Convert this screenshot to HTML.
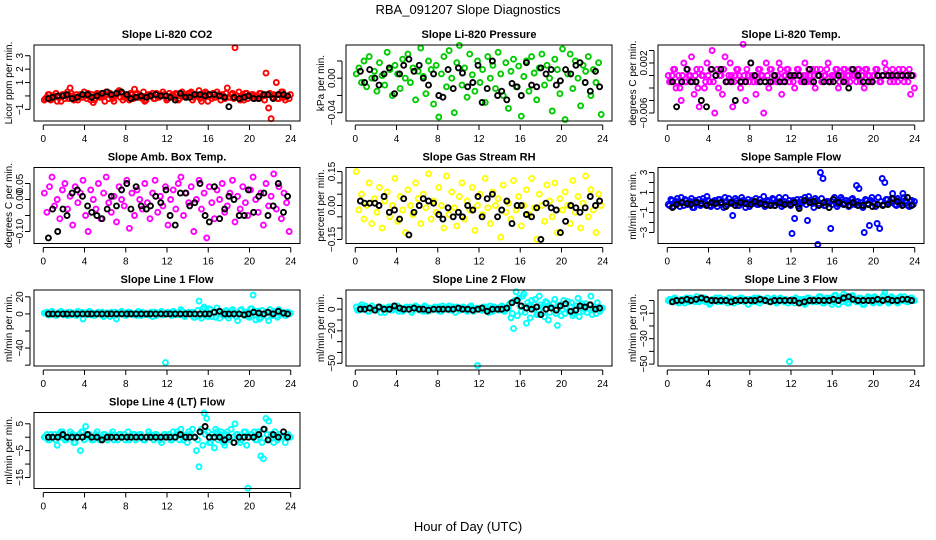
<!DOCTYPE html>
<html><head><meta charset="utf-8"><style>
html,body{margin:0;padding:0;background:#fff}
svg{display:block;font-family:"Liberation Sans",sans-serif}
</style></head><body>
<svg id="chart" width="936" height="540" viewBox="0 0 936 540" xmlns="http://www.w3.org/2000/svg">
<rect x="0" y="0" width="936" height="540" fill="#fff"/>
<text x="468" y="14" text-anchor="middle" font-size="13">RBA_091207  Slope Diagnostics</text>
<text x="468" y="531" text-anchor="middle" font-size="13">Hour of Day (UTC)</text>
<g id="panels"></g>
</svg>
<script>
const xTicks = [0,4,8,12,16,20,24];
const tc = [0.1,0.35,0.6,0.85,1.1,1.35,1.6,1.85,2.1,2.35,2.6,2.85,3.1,3.35,3.6,3.85,4.1,4.35,4.6,4.85,5.1,5.35,5.6,5.85,6.1,6.35,6.6,6.85,7.1,7.35,7.6,7.85,8.1,8.35,8.6,8.85,9.1,9.35,9.6,9.85,10.1,10.35,10.6,10.85,11.1,11.35,11.6,11.85,12.1,12.35,12.6,12.85,13.1,13.35,13.6,13.85,14.1,14.35,14.6,14.85,15.1,15.35,15.6,15.85,16.1,16.35,16.6,16.85,17.1,17.35,17.6,17.85,18.1,18.35,18.6,18.85,19.1,19.35,19.6,19.85,20.1,20.35,20.6,20.85,21.1,21.35,21.6,21.85,22.1,22.35,22.6,22.85,23.1,23.35,23.6,23.85];
const tc2 = [0.22,0.47,0.72,0.97,1.22,1.47,1.72,1.97,2.22,2.47,2.72,2.97,3.22,3.47,3.72,3.97,4.22,4.47,4.72,4.97,5.22,5.47,5.72,5.97,6.22,6.47,6.72,6.97,7.22,7.47,7.72,7.97,8.22,8.47,8.72,8.97,9.22,9.47,9.72,9.97,10.22,10.47,10.72,10.97,11.22,11.47,11.72,11.97,12.22,12.47,12.72,12.97,13.22,13.47,13.72,13.97,14.22,14.47,14.72,14.97,15.22,15.47,15.72,15.97,16.22,16.47,16.72,16.97,17.22,17.47,17.72,17.97,18.22,18.47,18.72,18.97,19.22,19.47,19.72,19.97,20.22,20.47,20.72,20.97,21.22,21.47,21.72,21.97,22.22,22.47,22.72,22.97,23.22,23.47,23.72,23.97];
const tb = [0.5,0.9,1.4,1.9,2.3,2.8,3.3,3.8,4.3,4.7,5.2,5.7,6.2,6.6,7.1,7.6,8.1,8.5,9.0,9.5,10.0,10.4,10.9,11.4,11.9,12.3,12.8,13.3,13.8,14.2,14.7,15.2,15.7,16.1,16.6,17.1,17.6,18.0,18.5,19.0,19.5,19.9,20.4,20.9,21.4,21.8,22.3,22.8,23.3,23.7];

const titles = ["Slope Li-820 CO2","Slope Li-820 Pressure","Slope Li-820 Temp.","Slope Amb. Box Temp.","Slope Gas Stream RH","Slope Sample Flow","Slope Line 1 Flow","Slope Line 2 Flow","Slope Line 3 Flow","Slope Line 4 (LT) Flow"];
const yTitles = ["Licor ppm per min.","kPa per min.","degrees C per min.","degrees C per min.","percent per min.","ml/min per min.","ml/min per min.","ml/min per min.","ml/min per min.","ml/min per min."];
const colors = ["#ff0000","#00cc00","#ff00ff","#ff00ff","#ffff00","#0000ff","#00ffff","#00ffff","#00ffff","#00ffff"];
const units = [0.1,0.001,0.001,0.01,0.01,0.1,1,1,1,1];
const yDomains = [[-1.87,3.8],[-0.0496,0.0385],[-0.00728,0.00488],[-0.1375,0.10],[-0.168,0.168],[-4.1,3.5],[-61,28],[-52.5,17.7],[-51.5,8.3],[-19.1,9.2]];
const yTickVals = [[-1,0,1,2,3],[-0.04,-0.02,0,0.02],[-0.006,-0.004,-0.002,0,0.002,0.004],[-0.10,-0.05,0,0.05],[-0.15,-0.10,-0.05,0,0.05,0.10,0.15],[-3,-2,-1,0,1,2,3],[-60,-40,-20,0,20],[-50,-40,-30,-20,-10,0,10],[-50,-40,-30,-20,-10,0],[-15,-10,-5,0,5]];
const yTickLabels = [["−1","","1","2","3"],["−0.04","","0.00",""],["−0.006","","","","0.002",""],["−0.10","","0.00","0.05"],["−0.15","","","0.00","","","0.15"],["−3","","−1","","1","","3"],["","−40","","0","20"],["−50","","","−20","","0",""],["−50","","−30","","−10",""],["−15","","−5","","5"]];

const c1 = [-3,-1,1,-2,0,-4,-1,1,-2,3,6,0,-2,-3,1,-1,0,2,-3,-5,1,0,-1,2,3,-2,0,-4,1,4,2,-1,0,-3,1,5,2,-1,-2,-4,0,1,2,-2,-1,1,3,0,-2,0,1,2,-3,0,1,-1,2,3,-1,0,4,-4,1,2,0,-2,-1,3,0,1,-2,6,-1,2,36,0,-3,1,2,-2,0,1,-1,-2,2,0,17,-9,-17,1,10,-2,3,-1,0,-2];
const c1b = [-2,1,-3,0,2,-1,-4,1,0,-2,2,-3,1,0,-1,3,-2,0,1,-3,2,-1,0,-4,1,2,-2,0,3,-1,-3,1,0,2,-2,1,-1,0,3,-3,1,0,-2,2,-1,0,1,-3,2,0,-1,1,-2,3,0,-1,2,-3,1,0,-2,1,3,-4,0,2,-1,1,-3,0,2,-1,1,-2,0,3,-1,-3,2,0,1,-2,-1,2,0,-3,1,2,-1,0,-2,1,3,-3,0,1];
const b1 = [-2,-1,0,0,1,-2,-1,1,1,-1,0,2,3,1,2,3,1,-2,-1,0,-1,0,1,0,0,-1,-3,2,-1,-1,1,1,0,1,1,0,-1,-8,-1,-2,-1,0,-2,-2,1,1,-2,1,1,0];
const c2 = [5,12,-5,20,-10,25,0,8,-15,18,3,-8,30,10,-20,15,5,-12,22,0,28,-5,12,-25,8,35,2,-18,20,10,-30,15,-45,5,25,-10,32,0,-40,18,38,-8,12,-22,28,4,-15,20,-5,10,-28,25,0,15,-12,30,5,-20,18,-35,8,22,-10,14,-44,2,20,-15,25,6,-25,12,28,-8,15,0,-38,22,10,-18,34,-48,5,28,-12,20,0,-32,15,8,25,-20,10,-5,18,-42];
const b2 = [8,-5,10,0,-8,5,12,-18,5,15,22,8,15,0,-8,5,-20,-22,10,-12,12,6,-10,-5,15,-28,-12,20,-20,-15,-25,-6,-10,-20,18,-8,-10,12,5,10,-8,-3,10,5,15,18,-5,-15,8,-10];
const c3 = [0,-1,1,-2,0,-4,2,-1,0,3,-3,1,-5,0,-2,2,-1,4,-6,1,0,-3,3,-1,2,-5,0,1,-2,5,-4,0,2,-1,-3,1,0,-6,2,-2,1,0,-1,2,-3,0,1,-1,0,-2,1,0,-1,2,-1,0,1,-2,0,1,-1,0,2,-1,0,1,-2,0,1,-1,0,1,0,-1,1,0,-2,1,0,-1,0,1,-1,0,2,0,-1,1,0,-1,0,1,0,-1,-3,0];
const c3b = [-1,0,1,-1,-2,0,-1,1,0,-1,0,-2,1,0,-1,0,1,-1,0,-2,0,1,-1,0,0,-1,1,0,-1,0,1,-1,0,0,-1,1,0,-1,0,1,-1,0,0,1,-1,0,1,0,-1,0,1,-1,0,0,1,-1,0,1,0,-1,0,1,-1,0,0,1,-1,0,1,0,-1,0,0,1,-1,0,1,0,-1,0,1,0,-1,0,1,0,0,-1,0,1,0,-1,0,1,0,-2];
const b3 = [-1,-5,-1,1,-1,-1,-4,-5,1,0,1,-1,-1,-4,-1,-1,2,0,-1,-1,-1,0,-1,-1,0,0,0,-1,1,-1,0,-1,-1,-1,0,-1,-2,1,0,-1,-1,-1,0,0,0,0,0,0,0,0];
const c4 = [2,-4,4,7,-2,0,-6,3,5,-3,1,-8,4,-1,2,6,-5,-10,3,0,-3,5,-6,2,7,-1,-4,1,-7,4,0,-2,6,-9,2,-5,3,0,-3,5,-1,-6,2,6,-4,1,-2,4,-8,0,3,-3,5,7,-5,2,-1,4,-10,0,6,-3,2,-12,4,-1,-6,3,0,5,-4,-2,2,6,-7,1,-3,4,-1,-5,3,7,0,-4,2,-8,5,-2,1,8,-3,4,-6,2,-1,-10];
const b4 = [-12,-3,-10,-3,-5,2,3,1,-2,-4,-5,-6,-3,1,-2,3,5,-3,4,-2,-3,-2,1,-1,3,-5,-8,2,2,-2,-1,5,-5,-7,4,-6,-3,1,0,-5,-5,3,-4,1,2,-5,-2,5,-4,1];
const c5 = [15,-2,5,-6,0,10,-8,3,-3,8,-10,2,6,-5,0,12,-7,4,-2,-12,7,0,-4,10,3,-8,5,-1,14,-6,2,-3,8,0,-10,13,-4,6,-1,-9,4,10,-6,2,-2,8,-11,0,5,-4,12,-1,-8,6,0,3,-14,9,-3,1,-6,11,-2,4,-9,0,7,-4,12,-1,-15,5,0,-7,9,2,-5,10,-12,3,-2,6,0,-8,11,-3,4,-10,1,13,-5,7,-2,-12,5,0];
const b5 = [2,1,1,1,0,4,-3,-2,-6,3,-13,-3,0,3,2,1,-4,-6,-1,-5,-3,-5,0,-2,4,-5,3,5,-5,-2,2,-8,0,0,-4,-5,-1,-15,1,-1,-2,-12,-7,0,-1,-3,-1,4,0,2];
const c6 = [-2,3,-4,1,0,5,-3,2,-1,4,-5,0,3,-2,1,6,-3,0,2,-4,3,-1,5,-2,0,-13,4,-3,1,2,-5,3,0,-1,4,-2,0,6,-3,1,-2,3,0,5,-4,1,-1,2,-31,-16,3,-2,0,5,-18,2,-1,4,-42,30,24,-3,1,-26,3,0,-2,5,-1,2,-4,3,0,17,14,-3,-30,2,-23,5,-1,-21,-26,24,20,3,0,9,-2,4,-1,9,2,-3,1,-2];
const c6b = [-3,2,-1,4,-4,0,3,-2,1,-5,2,0,-3,4,-1,2,-4,1,0,3,-2,-5,1,4,-1,0,2,-3,5,-1,0,-4,2,1,-2,3,0,-4,2,-1,4,-3,0,1,-2,5,-1,-3,2,0,-4,3,1,-2,6,0,-5,2,-1,4,-3,1,0,-2,5,-4,1,3,-1,0,-3,4,-2,1,0,-5,3,-1,2,0,-4,5,1,-2,3,-1,0,4,-3,2,-1,5,0,-4,2,1];
const b6 = [-5,-2,0,-1,-2,0,-1,-3,0,-1,0,-4,0,-3,0,-1,-2,1,-1,-2,-3,-3,0,-2,-2,0,-6,2,0,1,-3,0,-5,3,0,-2,-3,0,-3,-3,-2,-4,-2,-3,-2,4,1,-3,5,-3];
const c7 = [1,2,-1,3,0,-1,2,0,1,-2,2,0,-1,3,1,-6,0,2,-1,1,0,2,-1,-3,1,0,2,-1,-6,1,3,0,-1,2,1,0,-2,1,2,-1,0,1,-3,2,0,1,-1,-57,2,0,3,-1,1,5,-2,0,2,1,-4,0,15,-5,8,0,6,-3,2,7,-5,1,3,0,-2,5,1,-8,4,0,2,-3,6,22,-7,3,-4,0,2,-8,1,3,-2,5,0,1,2,0];
const c7b = [1,-1,2,0,-2,1,3,-1,0,2,-1,1,-2,0,2,1,-1,3,0,-2,1,0,2,-1,1,-3,0,2,-1,1,0,-2,2,1,-1,0,3,-2,1,0,-1,2,0,-2,1,3,-1,0,1,-2,2,0,-1,3,-3,1,0,2,-4,4,-2,6,1,-3,5,2,-4,3,0,-2,4,-5,1,3,-3,0,5,-2,2,-4,6,-1,3,-6,4,0,-3,5,-2,1,-4,3,0,-2,2,1];
const b7 = [0,0,0,0,0,0,0,0,0,0,0,0,0,0,0,0,0,0,0,0,0,0,0,0,0,0,0,0,0,0,0,0,0,0,2,3,0,0,0,0,-1,0,2,1,0,2,0,3,1,0];
const c8 = [2,-1,4,0,1,-2,3,0,-1,2,1,-3,0,2,-1,1,3,0,-2,1,0,2,-1,3,0,1,-2,2,0,-1,1,0,2,-2,1,0,3,-1,0,2,-1,1,0,-2,2,1,0,-52,1,-1,2,0,3,-2,1,0,2,-1,0,1,-8,-18,16,10,-2,14,-13,3,8,0,-5,12,2,-7,6,-3,1,9,-15,4,0,-4,7,2,-6,0,10,3,-2,5,1,12,0,-4,2,0];
const c8b = [-1,2,0,3,-2,1,0,-1,2,-3,1,0,2,-1,3,0,-2,1,-1,2,0,-3,1,2,-1,0,3,-2,1,0,2,-1,-2,3,0,1,-1,2,-3,0,1,2,-1,0,3,-2,1,0,-1,2,0,-3,1,2,0,-1,3,-2,1,5,-4,8,-6,3,12,-3,6,-8,2,9,-5,4,-3,7,-10,2,5,-4,3,-6,8,1,-2,6,-4,3,-7,5,0,-3,4,-5,2,6,-2,1];
const b8 = [0,0,1,-1,2,0,0,3,1,0,0,1,0,0,-1,0,0,0,0,0,1,0,0,-1,0,1,-2,0,0,0,1,6,8,3,1,0,2,-5,0,1,-1,3,5,-2,-1,3,2,4,0,1];
const c9 = [0,-1,1,0,-2,1,0,2,-1,0,1,3,-1,0,2,0,-3,1,0,-1,2,0,1,-2,0,1,0,-1,2,0,1,-3,0,1,-1,2,0,1,0,-1,1,2,-2,0,1,-1,0,-48,1,-2,0,1,-1,-3,2,0,-1,1,0,3,-2,1,0,2,-1,4,-3,1,5,0,-2,3,1,-1,2,0,-3,1,2,-1,3,0,-2,1,6,0,-1,2,1,-2,3,0,1,-1,2,0];
const c9b = [1,0,2,-1,0,1,-2,0,2,1,-1,0,1,2,-1,0,-2,1,2,0,-1,1,0,2,-1,-2,1,0,2,-1,0,1,-1,2,0,-2,1,0,2,-1,1,0,-1,2,0,1,-2,0,1,2,-1,0,1,-2,2,0,1,-1,3,0,-2,2,1,-3,4,0,2,-1,3,-2,1,4,0,-1,2,-3,1,3,0,-2,2,1,-1,4,0,-2,3,1,-1,2,0,3,-1,1,2,0];
const b9 = [-1,0,0,1,0,1,2,1,0,0,0,0,-1,0,0,0,0,0,1,0,-1,0,0,0,0,0,-2,-1,0,0,0,0,0,1,0,2,3,1,0,0,0,0,1,0,1,0,0,1,1,0];
const c10 = [0,1,-1,0,1,-3,0,2,-1,0,2,1,-2,0,-5,2,4,1,0,-1,1,0,-1,1,0,0,1,-1,0,1,0,1,0,-1,0,1,0,1,0,-1,0,1,0,1,0,-1,0,1,0,-1,2,0,1,3,-1,0,2,1,0,-5,-11,3,9,7,-2,1,-4,2,1,0,-3,2,-1,0,5,1,-2,0,2,-19,1,0,-1,2,-7,-8,7,6,1,-2,0,1,0,0,1,0];
const c10b = [0,-1,1,0,-1,1,2,0,-1,0,1,-2,0,1,2,-1,0,1,-1,0,2,-1,0,1,-1,0,2,0,-1,1,0,-1,2,0,1,-1,0,1,-1,0,2,0,-1,1,0,-2,1,0,1,-1,0,2,-1,1,0,-2,1,3,0,-1,2,-3,1,2,-2,0,3,-1,2,-2,1,0,3,-2,1,0,-1,2,-3,0,1,2,-1,0,-2,3,1,-1,0,2,-1,1,0,-2,1,0];
const b10 = [0,0,0,1,0,0,0,0,1,0,0,-1,0,0,0,0,0,0,0,0,0,0,0,0,0,0,0,1,0,0,0,2,4,0,0,0,-1,0,-2,0,0,0,0,1,3,-1,1,0,2,0];
const colorSeries = [c1,c2,c3,c4,c5,c6,c7,c8,c9,c10];
const colorSeries2 = [c1b,null,c3b,null,null,c6b,c7b,c8b,c9b,c10b];
const blackSeries = [b1,b2,b3,b4,b5,b6,b7,b8,b9,b10];

const NS = "http://www.w3.org/2000/svg";
const root = document.getElementById('panels');
function mk(tag, attrs, parent){const e=document.createElementNS(NS,tag);for(const k in attrs)e.setAttribute(k,attrs[k]);parent.appendChild(e);return e;}
const XD=[-0.9,24.9];
for(let p=0;p<10;p++){
  const col=p%3,row=Math.floor(p/3);
  const x0=34+312*col,x1=300+312*col,y0=45+122.5*row,y1=y0+76;
  const xs=v=>x0+(v-XD[0])/(XD[1]-XD[0])*(x1-x0);
  const yd=yDomains[p];
  const ys=v=>y1-(v-yd[0])/(yd[1]-yd[0])*(y1-y0);
  const g=mk('g',{},root);
  
  
  const t=mk('text',{x:(x0+x1)/2,y:y0-7,'text-anchor':'middle','font-size':11,'font-weight':'bold'},g);
  t.textContent=titles[p];
  
  
  const yt=mk('text',{x:0,y:0,'text-anchor':'middle','font-size':10,transform:`translate(${x0-22},${(y0+y1)/2}) rotate(-90)`},g);
  yt.textContent=yTitles[p];
  
  
  const pts=mk('g',{fill:'none',stroke:colors[p],'stroke-width':1.9},g);
  
  
  const cs=colorSeries[p];
  for(let i=0;i<Math.min(tc.length,cs.length);i++){
    const c=mk('circle',{cx:xs(tc[i]).toFixed(1),cy:ys(cs[i]*units[p]).toFixed(1),r:2.5},pts);
    
    
  }
  const cs2=colorSeries2[p];
  if(cs2){
    for(let i=0;i<Math.min(tc2.length,cs2.length);i++){
      const c=mk('circle',{cx:xs(tc2[i]).toFixed(1),cy:ys(cs2[i]*units[p]).toFixed(1),r:2.5},pts);
      
      
    }
  }
  const bp=mk('g',{fill:'none',stroke:'#000','stroke-width':1.9},g);
  
  
  const bs=blackSeries[p];
  for(let i=0;i<Math.min(tb.length,bs.length);i++){
    const c=mk('circle',{cx:xs(tb[i]).toFixed(1),cy:ys(bs[i]*units[p]).toFixed(1),r:2.5},bp);
    
    
  }
  const box=mk('rect',{x:x0,y:y0,width:x1-x0,height:y1-y0,fill:'none',stroke:'#000','stroke-width':1},g);
  
  
  const xa=mk('g',{},g);
  
  
  mk('line',{x1:xs(0),x2:xs(24),y1:y1+4,y2:y1+4,stroke:'#000'},xa);
  xTicks.forEach(v=>{
    mk('line',{x1:xs(v),x2:xs(v),y1:y1+4,y2:y1+9,stroke:'#000'},xa);
    const l=mk('text',{x:xs(v),y:y1+21,'text-anchor':'middle','font-size':10},xa);
    l.textContent=v;
    
    
  });
  const ya=mk('g',{},g);
  
  
  const tv=yTickVals[p].filter(v=>v>=yd[0]&&v<=yd[1]);
  mk('line',{x1:x0-4,x2:x0-4,y1:ys(tv[0]),y2:ys(tv[tv.length-1]),stroke:'#000'},ya);
  yTickVals[p].forEach((v,i)=>{
    if(v<yd[0]||v>yd[1])return;
    mk('line',{x1:x0-9,x2:x0-4,y1:ys(v),y2:ys(v),stroke:'#000'},ya);
    const lab=yTickLabels[p][i];
    if(lab){
      const l=mk('text',{x:0,y:0,'text-anchor':'middle','font-size':10,transform:`translate(${x0-11},${ys(v)}) rotate(-90)`},ya);
      l.textContent=lab;
      
      
    }
  });
}
</script>
</body></html>
